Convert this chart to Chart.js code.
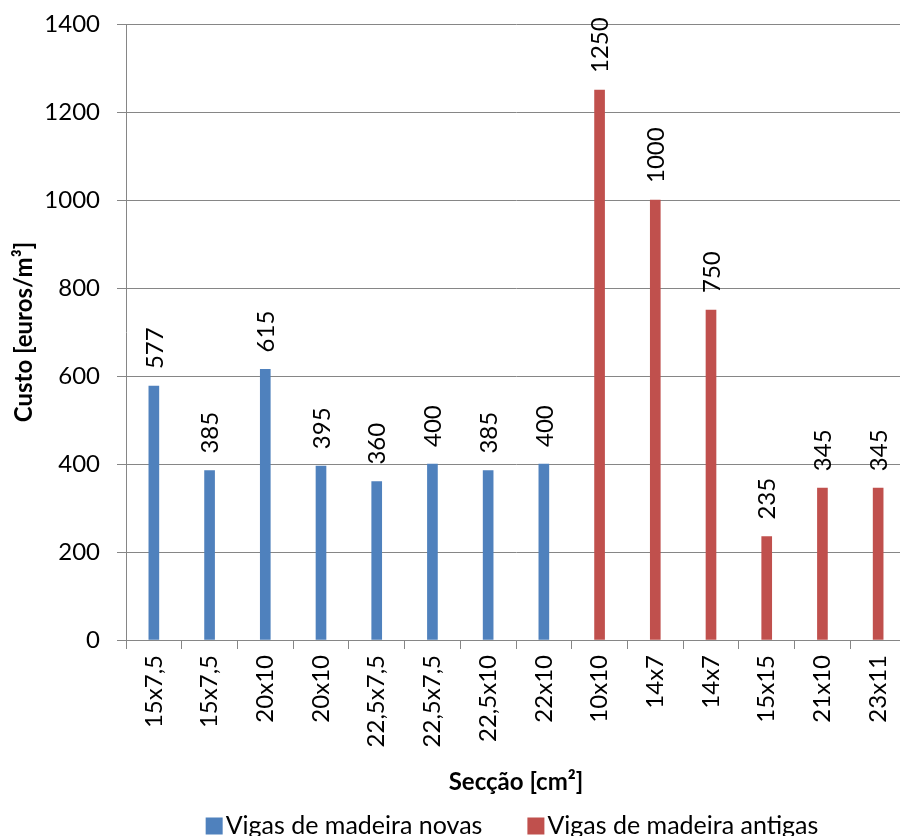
<!DOCTYPE html>
<html>
<head>
<meta charset="utf-8">
<title>Custo das vigas de madeira</title>
<script src="https://cdn.jsdelivr.net/npm/chart.js@4.4.1/dist/chart.umd.min.js"></script>
<style>
    html, body { margin: 0; padding: 0; background: #fff; overflow: hidden; }
    #costChart { display: block; }
</style>
</head>
<body>
<canvas id="costChart" width="910" height="836"></canvas>
<script>
// Secções (eixo x)
const categories = [
    "15x7,5", "15x7,5", "20x10", "20x10", "22,5x7,5", "22,5x7,5", "22,5x10",
    "22x10", "10x10", "14x7", "14x7", "15x15", "21x10", "23x11"
];
// Custo [euros/m3]
const novas = [577, 385, 615, 395, 360, 400, 385, 400, null, null, null, null, null, null];
const antigas = [null, null, null, null, null, null, null, null, 1250, 1000, 750, 235, 345, 345];
const yTicks = [0, 200, 400, 600, 800, 1000, 1200, 1400];

const axisGray = '#868686';
const fontFamily = 'Lato, "Open Sans", sans-serif';

Chart.defaults.color = '#000';
Chart.defaults.font.family = fontFamily;

// value labels, rotated, above each bar
const barLabels = {
    id: 'barLabels',
    afterDatasetsDraw(chart) {
        const ctx = chart.ctx;
        ctx.save();
        ctx.font = '24px ' + fontFamily;
        ctx.fillStyle = '#000';
        ctx.textAlign = 'left';
        ctx.textBaseline = 'middle';
        chart.data.datasets.forEach((ds, i) => {
            chart.getDatasetMeta(i).data.forEach((bar, j) => {
                let v = ds.data[j];
                if (v === null) return;
                ctx.save();
                ctx.translate(bar.x, bar.y - 17);
                ctx.rotate(-Math.PI / 2);
                ctx.fillText(String(v), 0, 1);
                ctx.restore();
            });
        });
        ctx.restore();
    }
};

// legend at the bottom, drawn like the original (wide gap between items)
const bottomLegend = {
    id: 'bottomLegend',
    afterDraw(chart) {
        const ctx = chart.ctx;
        ctx.save();
        ctx.font = '25px ' + fontFamily;
        ctx.textBaseline = 'middle';
        const box = 17, gap = 3, between = 45;
        const items = chart.data.datasets.map(ds => ({
            text: ds.label, color: ds.backgroundColor, w: ctx.measureText(ds.label).width
        }));
        let total = items.reduce((s, it) => s + box + gap + it.w, 0) + between * (items.length - 1);
        let x = 512 - total / 2;
        const yMid = 826;
        items.forEach(it => {
            ctx.fillStyle = it.color;
            ctx.fillRect(x, yMid - box / 2, box, box);
            ctx.fillStyle = '#000';
            ctx.fillText(it.text, x + box + gap, yMid);
            x += box + gap + it.w + between;
        });
        ctx.restore();
    }
};

const ctx = document.getElementById('costChart').getContext('2d');
const costChart = new Chart(ctx, {
    type: 'bar',
    data: {
        labels: categories,
        datasets: [
            { label: 'Vigas de madeira novas', data: novas, backgroundColor: '#4F81BD', barThickness: 10, grouped: false },
            { label: 'Vigas de madeira antigas', data: antigas, backgroundColor: '#C0504D', barThickness: 10, grouped: false }
        ]
    },
    options: {
        responsive: false,
        animation: false,
        layout: { padding: { top: 24, right: 4, bottom: 39, left: 0 } },
        plugins: {
            legend: { display: false },
            tooltip: { enabled: false }
        },
        scales: {
            x: {
                grid: {
                    offset: true,
                    drawOnChartArea: false,
                    color: axisGray,
                    tickLength: 9
                },
                border: { color: axisGray },
                ticks: {
                    autoSkip: false,
                    minRotation: 90,
                    maxRotation: 90,
                    padding: 6,
                    font: { size: 24 }
                },
                title: {
                    display: true,
                    text: 'Secção [cm²]',
                    font: { size: 24, weight: 'bold' },
                    padding: { top: 0, bottom: 0 }
                },
                afterFit(scale) {
                    scale.height = 157;
                    scale.paddingLeft = 0;
                    scale.paddingRight = 0;
                }
            },
            y: {
                min: 0,
                max: 1400,
                afterBuildTicks(scale) { scale.ticks = yTicks.map(v => ({ value: v })); },
                grid: { color: axisGray, tickLength: 9 },
                border: { color: axisGray },
                ticks: {
                    padding: 17,
                    font: { size: 24 },
                    callback: v => String(v)
                },
                title: {
                    display: true,
                    text: 'Custo [euros/m³]',
                    font: { size: 24, weight: 'bold' },
                    padding: { top: 10, bottom: 0 }
                },
                afterFit(scale) {
                    scale.width = 126;
                    scale.paddingTop = 0;
                    scale.paddingBottom = 0;
                }
            }
        }
    },
    plugins: [barLabels, bottomLegend]
});
</script>
</body>
</html>
